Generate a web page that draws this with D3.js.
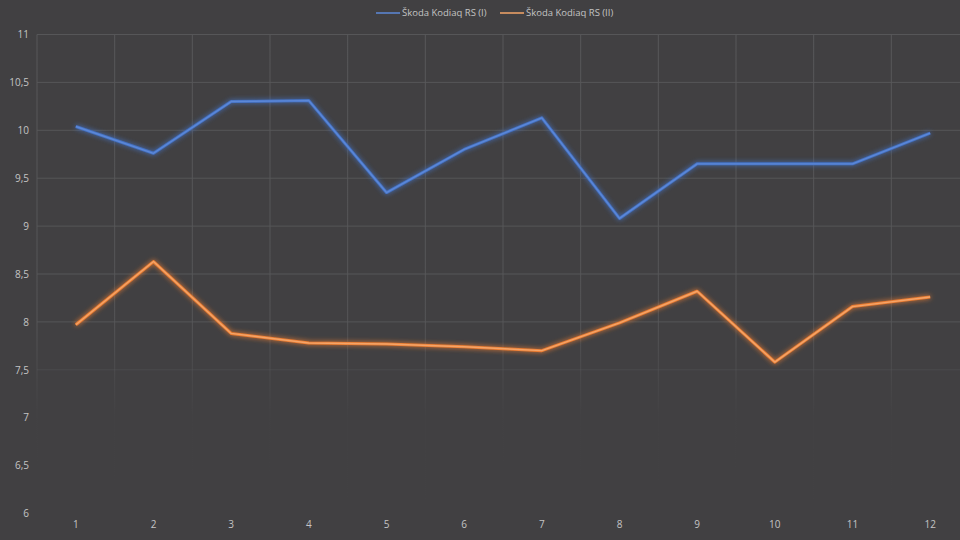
<!DOCTYPE html>
<html><head><meta charset="utf-8">
<script src="https://cdn.jsdelivr.net/npm/d3@7"></script>
<style>html,body{margin:0;padding:0;background:#414042;}svg{display:block;}</style>
</head><body>
<script>
const categories = ["1","2","3","4","5","6","7","8","9","10","11","12"];
const seriesNames = ["Škoda Kodiaq RS (I)", "Škoda Kodiaq RS (II)"];
const series1 = [10.04, 9.76, 10.30, 10.31, 9.35, 9.80, 10.13, 9.08, 9.65, 9.65, 9.65, 9.97];
const series2 = [7.97, 8.63, 7.88, 7.78, 7.77, 7.74, 7.70, 7.99, 8.32, 7.58, 8.16, 8.26];
const yTicks = [6, 6.5, 7, 7.5, 8, 8.5, 9, 9.5, 10, 10.5, 11];
const colors = ["#4472c4", "#ed7d31"];
const coreColors = ["#5c88d8", "#f3a468"];

const W = 960, H = 540;
const svg = d3.select("body").append("svg").attr("width", W).attr("height", H);
svg.append("rect").attr("width", W).attr("height", H).attr("fill", "#414042");

const defs = svg.append("defs");
const glow = defs.append("filter").attr("id", "glow").attr("x", "-5%").attr("y", "-20%").attr("width", "110%").attr("height", "140%");
glow.append("feGaussianBlur").attr("in", "SourceGraphic").attr("stdDeviation", 2.5).attr("result", "b");
const m = glow.append("feMerge");
m.append("feMergeNode").attr("in", "b");
m.append("feMergeNode").attr("in", "SourceGraphic");

const vg = defs.append("linearGradient").attr("id", "vfade").attr("gradientUnits", "userSpaceOnUse")
  .attr("x1", 0).attr("y1", 34.5).attr("x2", 0).attr("y2", 513.5);
vg.append("stop").attr("offset", "0%").attr("stop-color", "#575759").attr("stop-opacity", 1);
vg.append("stop").attr("offset", "60%").attr("stop-color", "#575759").attr("stop-opacity", 0.9);
vg.append("stop").attr("offset", "80%").attr("stop-color", "#575759").attr("stop-opacity", 0.05);
vg.append("stop").attr("offset", "100%").attr("stop-color", "#575759").attr("stop-opacity", 0);

const x = d3.scaleBand().domain(categories).range([37, 969]);
const y = d3.scaleLinear().domain([6, 11]).range([513.5, 34.5]);

// horizontal gridlines
const hOpacity = v => v >= 8 ? 1 : (v >= 7.5 ? 0.45 : 0);
svg.append("g").selectAll("line").data(yTicks).join("line")
  .attr("x1", 37).attr("x2", W)
  .attr("y1", d => y(d)).attr("y2", d => y(d))
  .attr("stroke", "#565658").attr("stroke-width", 1)
  .attr("stroke-opacity", d => hOpacity(d));

// vertical gridlines at band boundaries
svg.append("g").selectAll("line").data(categories).join("line")
  .attr("x1", d => x(d)).attr("x2", d => x(d))
  .attr("y1", y(11)).attr("y2", y(6))
  .attr("stroke", "url(#vfade)").attr("stroke-width", 1);

// y axis labels
const yAxis = d3.axisLeft(y).tickValues(yTicks).tickSize(0).tickPadding(0)
  .tickFormat(d => d3.format("")(d).replace(".", ","));
const ya = svg.append("g").attr("transform", "translate(29,0)").call(yAxis);
ya.select(".domain").remove();
ya.selectAll("text").attr("fill", "#c4c4c4").attr("font-family", "'Open Sans', sans-serif").attr("font-size", 10);

// x axis labels
const xAxis = d3.axisBottom(x).tickSize(0).tickPadding(0);
const xa = svg.append("g").attr("transform", "translate(0,521)").call(xAxis);
xa.select(".domain").remove();
xa.selectAll("text").attr("fill", "#c4c4c4").attr("font-family", "'Open Sans', sans-serif").attr("font-size", 10);

const line = d3.line().x((d, i) => x(categories[i]) + x.bandwidth() / 2).y(d => y(d));
[series1, series2].forEach((s, k) => {
  svg.append("path").datum(s).attr("d", line).attr("fill", "none")
    .attr("stroke", colors[k]).attr("stroke-width", 3).attr("stroke-linejoin", "round")
    .attr("filter", "url(#glow)");
  svg.append("path").datum(s).attr("d", line).attr("fill", "none")
    .attr("stroke", coreColors[k]).attr("stroke-width", 1.4).attr("stroke-linejoin", "round");
});

// legend
const legend = svg.append("g").attr("font-family", "'Open Sans', sans-serif").attr("font-size", 9.5);
const legX = [376, 500];
seriesNames.forEach((n, k) => {
  const g = legend.append("g").attr("transform", `translate(${legX[k]},13)`);
  g.append("line").attr("x1", 0).attr("x2", 24).attr("stroke", coreColors[k]).attr("stroke-width", 1.5);
  g.append("text").attr("x", 26).attr("dy", "0.35em").attr("fill", "#c4c4c4").text(n);
});
</script>
</body></html>
